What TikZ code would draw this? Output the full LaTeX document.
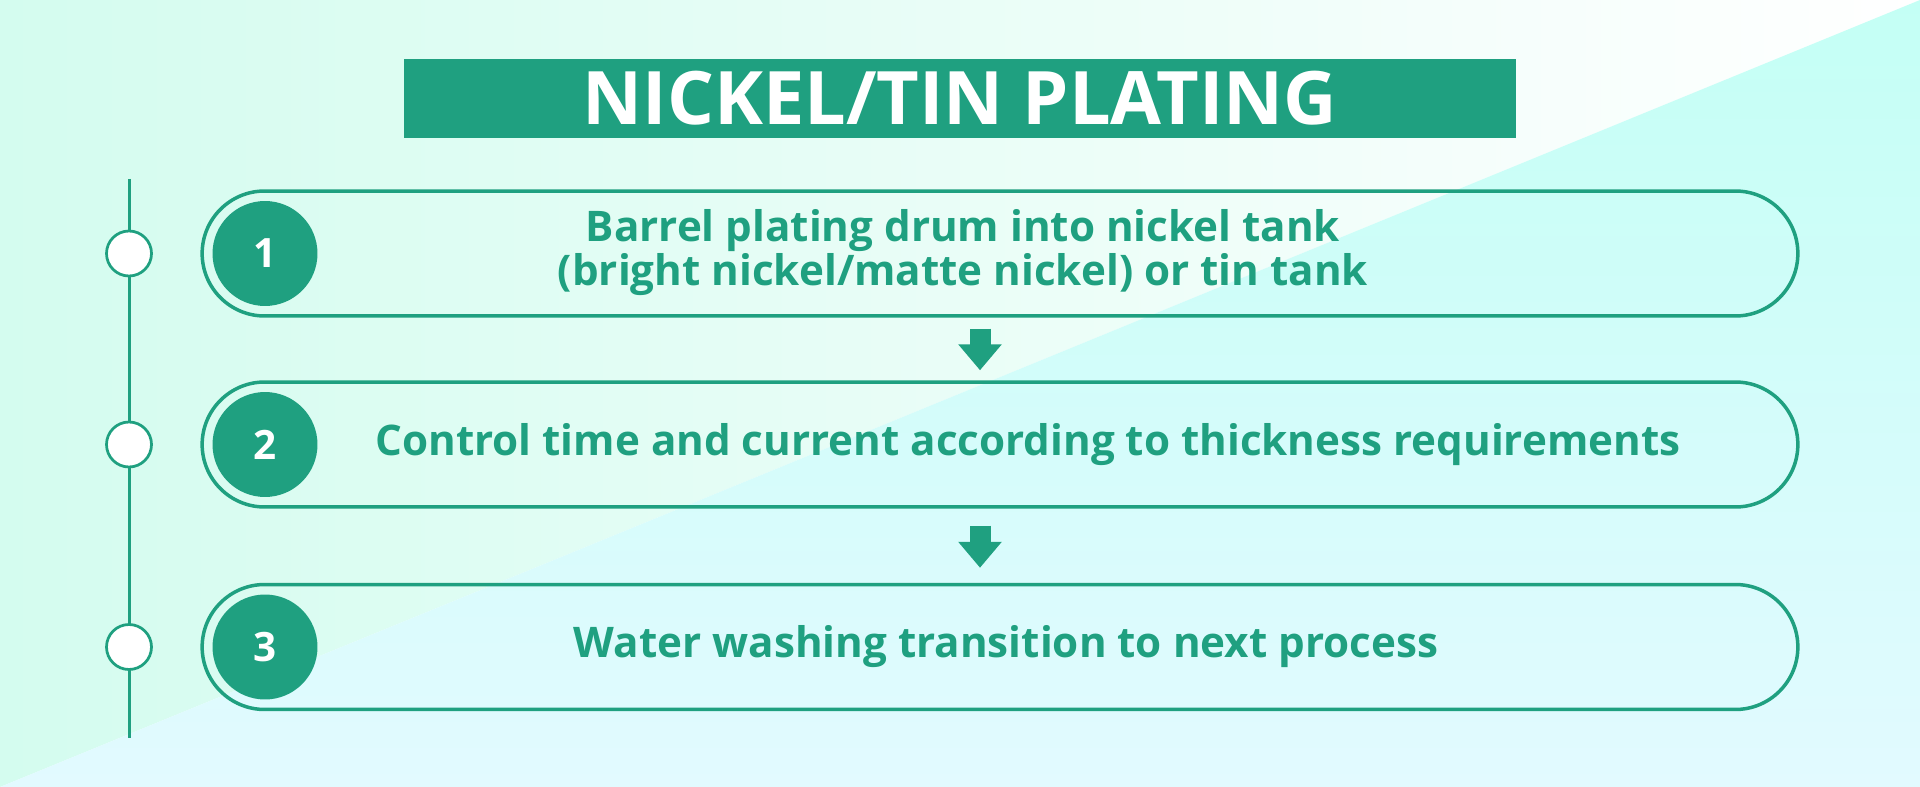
\documentclass[tikz,border=0pt]{standalone}
\usepackage{fontspec}
\setmainfont{Open Sans}
\usetikzlibrary{arrows.meta}
\definecolor{platgreen}{RGB}{31,160,128}
\definecolor{mintbg}{RGB}{212,252,239}
\definecolor{cyantop}{RGB}{196,255,245}
\definecolor{cyanbot}{RGB}{226,250,255}
\tikzstyle{title} = [rectangle, minimum width=22.24cm, minimum height=1.58cm, inner sep=0pt, fill=platgreen, text=white, font=\fontsize{42}{44}\selectfont\bfseries]
\tikzstyle{stepbox} = [rectangle, rounded corners=1.25cm, minimum width=31.92cm, minimum height=2.5cm, draw=platgreen, line width=0.07cm]
\tikzstyle{steptext} = [align=center, text=platgreen, font=\fontsize{24}{23}\selectfont\bfseries]
\tikzstyle{numdot} = [circle, minimum size=2.1cm, inner sep=0pt, fill=platgreen, text=white, font=\fontsize{23}{24}\selectfont\bfseries]
\tikzstyle{markdot} = [circle, minimum size=0.9cm, inner sep=0pt, fill=white, draw=platgreen, line width=0.055cm]
\tikzstyle{timeline} = [draw=platgreen, line width=0.06cm]
\tikzstyle{arrow} = [draw=platgreen, line width=0.42cm, -{Triangle[width=0.84cm,length=0.52cm]}]

\begin{document}
\begin{tikzpicture}[x=0.02cm, y=-0.02cm]
		\useasboundingbox (0,0) rectangle (1920,787);
		% background
		\shade[left color=mintbg, right color=white] (0,0) -- (1920,0) -- (0,787) -- cycle;
		\shade[top color=cyantop, bottom color=cyanbot] (1920,0) -- (1920,787) -- (0,787) -- cycle;

		\node (head) [title] at (960,98.5) {NICKEL/TIN PLATING};

		% timeline
		\coordinate (ltop) at (129,179);
		\coordinate (lbot) at (129,738);
		\draw [timeline] (ltop) -- (lbot);
		\node (m1) [markdot] at (129,253.5) {};
		\node (m2) [markdot] at (129,444.5) {};
		\node (m3) [markdot] at (129,647) {};

		% steps
		\node (s1) [stepbox] at (1000,253.5) {};
		\node (s2) [stepbox] at (1000,444.5) {};
		\node (s3) [stepbox] at (1000,647) {};
		\node (n1) [numdot] at (265,253.5) {1};
		\node (n2) [numdot] at (265,444.5) {2};
		\node (n3) [numdot] at (265,647) {3};
		\node (t1) [steptext] at (963,253) {Barrel plating drum into nickel tank\\(bright nickel/matte nickel) or tin tank};
		\node (t2) [steptext] at (1028,444.5) {Control time and current according to thickness requirements};
		\node (t3) [steptext] at (1006,647) {Water washing transition to next process};

		\draw [arrow] ([xshift=-0.4cm, yshift=-0.22cm]s1.south) -- ([xshift=-0.4cm, yshift=0.2cm]s2.north);
		\draw [arrow] ([xshift=-0.4cm, yshift=-0.34cm]s2.south) -- ([xshift=-0.4cm, yshift=0.3cm]s3.north);
	\end{tikzpicture}
\end{document}
